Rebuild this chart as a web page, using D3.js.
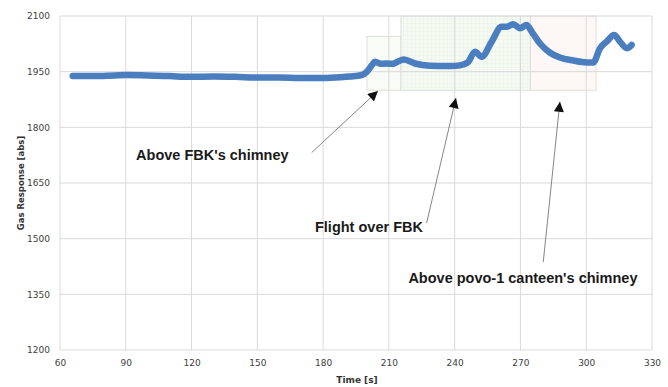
<!DOCTYPE html>
<html>
<head>
<meta charset="utf-8">
<script src="https://cdn.jsdelivr.net/npm/d3@7"></script>
<style>
  body { margin: 0; background: #fff; }
  svg { display: block; }
</style>
</head>
<body>
<div id="chart"></div>
<script>
// time [s] and gas response [abs]
const time = [65.8, 75, 85, 90, 100, 110, 119.7, 130, 140, 149.8, 160, 169.5, 180, 188, 192.3, 197.7,
  200, 202.3, 203.7, 206.4, 209, 211.9, 213.7, 216.9, 221.9, 228.7, 237.9, 242.4, 246, 249.3, 252.3,
  256.9, 261.4, 263.7, 266.7, 269.8, 272.8, 275.1, 278.9, 283.5, 288, 294.1, 300.2, 303.2,
  306.3, 309.3, 312.7, 315.4, 318.5, 320.7];
const response = [1938, 1938, 1940, 1941, 1940, 1938, 1936, 1937, 1936, 1934, 1934, 1933, 1933, 1935, 1937, 1941,
  1950, 1968, 1977, 1971, 1972, 1971, 1976, 1983, 1972, 1966, 1965, 1967, 1975, 2004, 1990,
  2031, 2071, 2071, 2078, 2067, 2076, 2058, 2026, 2001, 1988, 1980, 1975, 1975,
  2013, 2031, 2049, 2031, 2013, 2022];

const xTicks = [60, 90, 120, 150, 180, 210, 240, 270, 300, 330];
const yTicks = [1200, 1350, 1500, 1650, 1800, 1950, 2100];

// highlighted time windows: [t0, t1, v0, v1]
const regionBounds = [[200, 215.5, 1900, 2045], [215.5, 274.5, 1900, 2100], [274.5, 304.5, 1900, 2100]];
const regionKinds = ['plain', 'grid', 'pink'];

// annotations: label, text anchor (t, v), arrow start and tip (t, v)
const noteLabels = ["Above FBK's chimney", 'Flight over FBK', "Above povo-1 canteen's chimney"];
const noteText = [[94.7, 1713], [176.3, 1519], [218.9, 1380]];
const noteFrom = [[174.8, 1732], [227.2, 1542], [280.4, 1437]];
const noteTo = [[205.0, 1898], [240.6, 1879], [288.0, 1869]];

const width = 668;
const height = 387;
const margin = { top: 16, right: 16, bottom: 37, left: 60 };

const svg = d3.select('#chart').append('svg')
  .attr('width', width)
  .attr('height', height)
  .style('background', '#fff');

const x = d3.scaleLinear().domain([60, 330]).range([margin.left, width - margin.right]);
const y = d3.scaleLinear().domain([1200, 2100]).range([height - margin.bottom, margin.top]);

const defs = svg.append('defs');
const pat = defs.append('pattern')
  .attr('id', 'fine-grid')
  .attr('width', 4)
  .attr('height', 4)
  .attr('patternUnits', 'userSpaceOnUse');
pat.append('rect').attr('width', 4).attr('height', 4).attr('fill', '#f5faf3');
pat.append('path').attr('d', 'M4 0V4M0 4H4').attr('stroke', '#e0efd9').attr('stroke-width', 0.6);

defs.append('marker')
  .attr('id', 'head')
  .attr('viewBox', '0 0 10 10')
  .attr('refX', 10)
  .attr('refY', 5)
  .attr('markerWidth', 12)
  .attr('markerHeight', 10)
  .attr('markerUnits', 'userSpaceOnUse')
  .attr('orient', 'auto')
  .append('path')
  .attr('d', 'M0 0L10 5L0 10Z')
  .attr('fill', '#111');

// shaded windows
const fills = { plain: '#f9fbf7', grid: 'url(#fine-grid)', pink: '#fdf8f6' };
svg.append('g').selectAll('rect')
  .data(regionBounds)
  .join('rect')
  .attr('x', (d) => x(d[0]))
  .attr('y', (d) => y(d[3]))
  .attr('width', (d) => x(d[1]) - x(d[0]))
  .attr('height', (d) => y(d[2]) - y(d[3]))
  .attr('fill', (d, i) => fills[regionKinds[i]])
  .attr('stroke', '#d8d8d8')
  .attr('stroke-width', 0.8);

// grid
const grid = svg.append('g').attr('stroke', '#d9d9d9').attr('stroke-width', 1);
grid.selectAll('.v').data(xTicks).join('line')
  .attr('x1', (d) => x(d)).attr('x2', (d) => x(d))
  .attr('y1', y(2100)).attr('y2', y(1200));
grid.selectAll('.h').data(yTicks).join('line')
  .attr('x1', x(60)).attr('x2', x(330))
  .attr('y1', (d) => y(d)).attr('y2', (d) => y(d));

// axes (labels only)
const xAxis = svg.append('g')
  .attr('transform', `translate(0,${y(1200)})`)
  .call(d3.axisBottom(x).tickValues(xTicks).tickSize(0).tickPadding(10));
const yAxis = svg.append('g')
  .attr('transform', `translate(${x(60)},0)`)
  .call(d3.axisLeft(y).tickValues(yTicks).tickSize(0).tickPadding(10).tickFormat(d3.format('d')));
[xAxis, yAxis].forEach((g) => {
  g.select('.domain').remove();
  g.selectAll('text')
    .style('font-family', 'DejaVu Sans')
    .style('font-size', '9px')
    .attr('fill', '#404040');
});

svg.append('text')
  .attr('x', (x(60) + x(330)) / 2 + 1)
  .attr('y', 383)
  .attr('text-anchor', 'middle')
  .style('font-family', 'DejaVu Sans')
  .style('font-size', '9px')
  .style('font-weight', 'bold')
  .attr('fill', '#333')
  .text('Time [s]');

svg.append('text')
  .attr('transform', `translate(24,${(y(1200) + y(2100)) / 2}) rotate(-90)`)
  .attr('text-anchor', 'middle')
  .style('font-family', 'DejaVu Sans')
  .style('font-size', '8.5px')
  .style('font-weight', 'bold')
  .attr('fill', '#333')
  .text('Gas Response [abs]');

// data line
const line = d3.line()
  .x((d, i) => x(time[i]))
  .y((d) => y(d))
  .curve(d3.curveMonotoneX);

svg.append('path')
  .datum(response)
  .attr('fill', 'none')
  .attr('stroke', '#4a7ebf')
  .attr('stroke-width', 6.5)
  .attr('stroke-linejoin', 'round')
  .attr('stroke-linecap', 'round')
  .attr('d', line);

// annotations
const notes = svg.append('g');
notes.selectAll('line')
  .data(noteFrom)
  .join('line')
  .attr('x1', (d) => x(d[0]))
  .attr('y1', (d) => y(d[1]))
  .attr('x2', (d, i) => x(noteTo[i][0]))
  .attr('y2', (d, i) => y(noteTo[i][1]))
  .attr('stroke', '#777')
  .attr('stroke-width', 0.9)
  .attr('marker-end', 'url(#head)');

notes.selectAll('text')
  .data(noteLabels)
  .join('text')
  .attr('x', (d, i) => x(noteText[i][0]))
  .attr('y', (d, i) => y(noteText[i][1]))
  .style('font-family', 'Liberation Sans, Arial, sans-serif')
  .style('font-size', '14.5px')
  .style('font-weight', 'bold')
  .attr('fill', '#1a1a1a')
  .text((d) => d);
</script>
</body>
</html>
